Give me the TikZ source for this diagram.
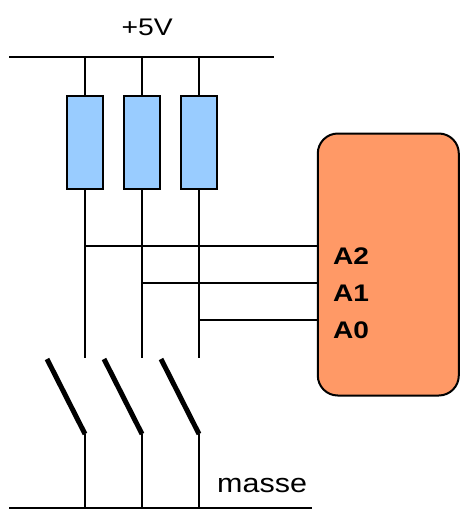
\documentclass[tikz,border=0pt]{standalone}
\usepackage{fontspec}
\setmainfont{Liberation Sans}
\definecolor{resblue}{HTML}{99CCFF}
\definecolor{boxorange}{HTML}{FF9966}
\begin{document}
\begin{tikzpicture}[x=1pt,y=-1pt,
  wire/.style={line width=2.6pt},
  sig/.style={line width=2pt},
  resistor/.style={draw, line width=2pt, fill=resblue, minimum width=36pt, minimum height=93pt, inner sep=0pt, anchor=north},
  blade/.style={line width=5pt},
  chip/.style={draw, line width=2pt, fill=boxorange, rounded corners=20pt, minimum width=141pt, minimum height=262pt, inner sep=0pt},
  lbl/.style={inner sep=0pt, anchor=base west, font=\fontsize{24}{24}\selectfont},
  pin/.style={inner sep=0pt, anchor=base west, font=\fontsize{24}{24}\selectfont\bfseries}]
\useasboundingbox (0,0) rectangle (461,509);
% top bus
\coordinate (busL) at (9,57);
\coordinate (busR) at (274,57);
\draw[wire] (busL) -- (busR);
\node[lbl] (v5) at (121.5,35.5) {\scalebox{1.18}[1]{+5V}};
% bottom bus
\coordinate (gndL) at (9,508);
\coordinate (gndR) at (312,508);
\draw[wire] (gndL) -- (gndR);
\node[lbl] (masse) at (217,492) {\fontsize{26.5}{26.5}\selectfont\scalebox{1.15}[1]{masse}};
% chip
\node[chip] (chip) at (388.3,264.5) {};
\node[pin] (a2) at (333,264) {\scalebox{1.17}[1]{A2}};
\node[pin] (a1) at (333,301) {\scalebox{1.17}[1]{A1}};
\node[pin] (a0) at (333,338) {\scalebox{1.17}[1]{A0}};
% resistors
\node[resistor] (r1) at (85,95) {};
\node[resistor] (r2) at (142,95) {};
\node[resistor] (r3) at (199,95) {};
% branch 1
\coordinate (top1) at (85,57);
\coordinate (j1) at (85,246);
\coordinate (t1) at (85,358);
\coordinate (s1a) at (47,359);
\coordinate (s1b) at (85,434);
\coordinate (g1) at (85,508);
\draw[wire] (top1) -- (r1.north);
\draw[wire] (r1.south) -- (t1);
\draw[blade] (s1a) -- (s1b);
\draw[wire] (s1b) -- (g1);
\draw[sig] (j1) -- (j1 -| chip.west);
% branch 2
\coordinate (top2) at (142,57);
\coordinate (j2) at (142,283);
\coordinate (t2) at (142,358);
\coordinate (s2a) at (104,359);
\coordinate (s2b) at (142,434);
\coordinate (g2) at (142,508);
\draw[wire] (top2) -- (r2.north);
\draw[wire] (r2.south) -- (t2);
\draw[blade] (s2a) -- (s2b);
\draw[wire] (s2b) -- (g2);
\draw[sig] (j2) -- (j2 -| chip.west);
% branch 3
\coordinate (top3) at (199,57);
\coordinate (j3) at (199,320);
\coordinate (t3) at (199,358);
\coordinate (s3a) at (161,359);
\coordinate (s3b) at (199,434);
\coordinate (g3) at (199,508);
\draw[wire] (top3) -- (r3.north);
\draw[wire] (r3.south) -- (t3);
\draw[blade] (s3a) -- (s3b);
\draw[wire] (s3b) -- (g3);
\draw[sig] (j3) -- (j3 -| chip.west);
\end{tikzpicture}
\end{document}
